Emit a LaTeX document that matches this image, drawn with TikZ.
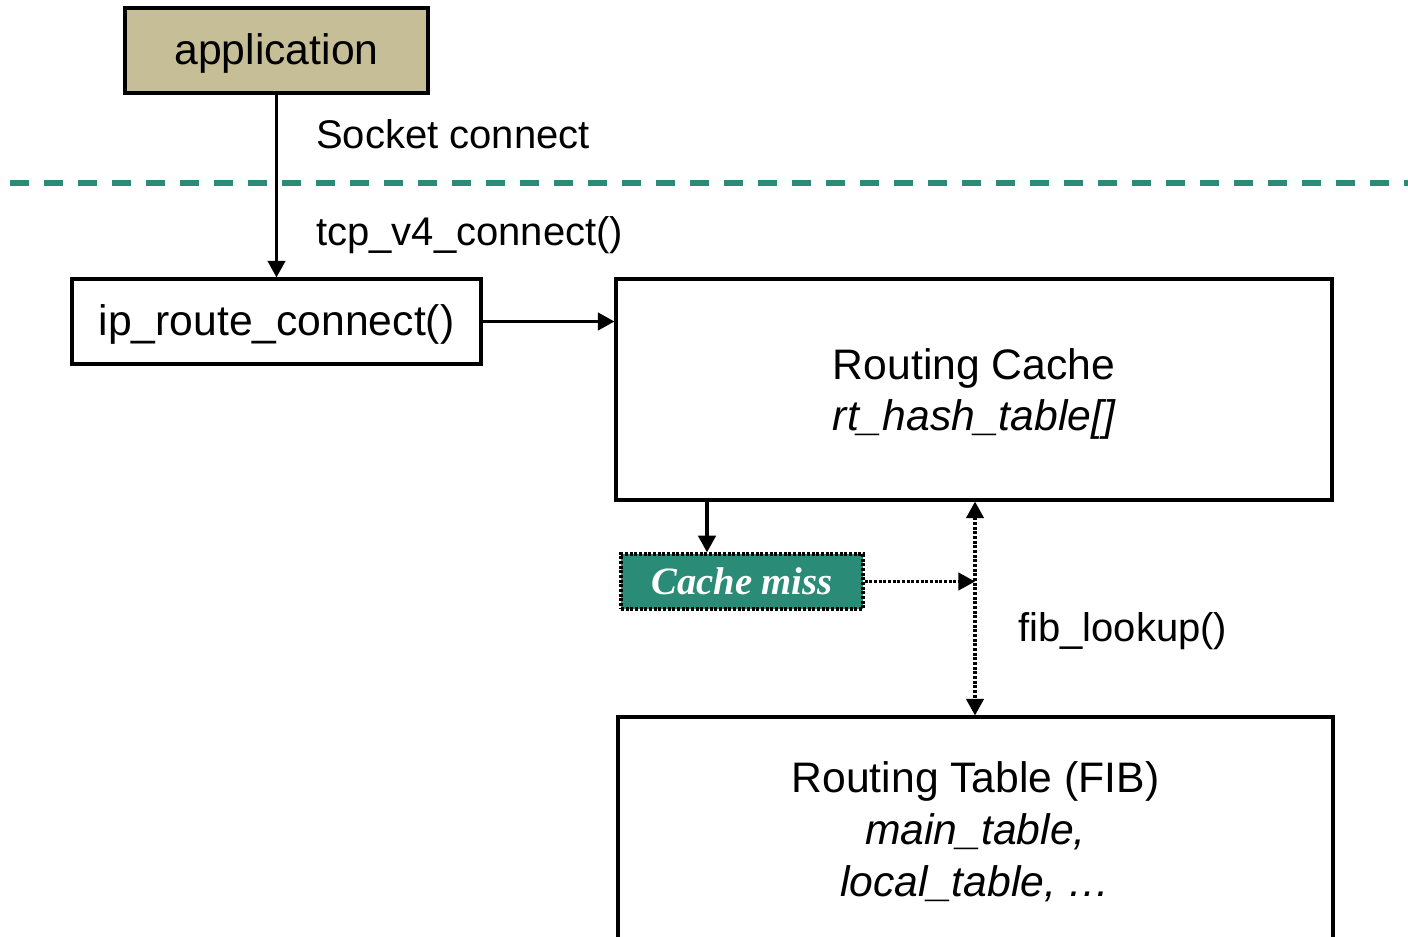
\documentclass[tikz,border=0pt]{standalone}
\usepackage{fontspec}
\setmainfont{Liberation Sans}
\newfontfamily\cmfont{Liberation Serif}
\usetikzlibrary{arrows.meta}
\definecolor{tealc}{HTML}{2A8B77}
\definecolor{tanc}{HTML}{C5BE97}
\tikzset{
  box/.style={draw=black, line width=2.3pt, rectangle, inner sep=0pt, font=\fontsize{32}{38}\selectfont, align=center},
  boxtext/.style={font=\fontsize{32}{38}\selectfont, inner sep=0pt},
  lbl/.style={font=\fontsize{30}{36}\selectfont, anchor=west, inner sep=0pt},
  tip/.tip={Triangle[length=12.5pt,width=13pt]},
  dots/.style={dash pattern=on 2.3pt off 1.2pt},
  arr/.style={line width=2.6pt, -tip},
  darr/.style={line width=2.5pt, dots, tip-tip},
}
\begin{document}
\begin{tikzpicture}[x=0.75pt,y=-0.75pt]
\useasboundingbox (0,0) rectangle (1408,937);
\clip (0,0) rectangle (1408,937);
\node[box, fill=tanc, minimum width=303*0.75pt, minimum height=85*0.75pt] (app) at (276.5,50.5) {};
\node[boxtext] (appt) at (276.5,53) {application};
\node[box, minimum width=409*0.75pt, minimum height=85*0.75pt] (iprc) at (276.5,321.5) {};
\node[boxtext] (iprct) at (276.5,324) {ip\_route\_connect()};
\node[box, minimum width=716*0.75pt, minimum height=221*0.75pt] (rc) at (974,389.5) {};
\node[boxtext] (rct) at (974,368) {Routing Cache};
\node[boxtext, font=\fontsize{32}{38}\selectfont\itshape] (rch) at (974,419) {rt\_hash\_table[]};
\node[box, minimum width=715*0.75pt, minimum height=240*0.75pt] (rt) at (975.5,837) {};
\node[boxtext] (rtt) at (975.5,781) {Routing Table (FIB)};
\node[boxtext, font=\fontsize{32}{38}\selectfont\itshape] (rtm) at (975.5,832) {main\_table,};
\node[boxtext, font=\fontsize{32}{38}\selectfont\itshape] (rtl) at (975.5,884) {local\_table, …};
\node[draw=black, dots, line width=2.5pt, fill=tealc, text=white, inner sep=0pt,
  minimum width=242*0.75pt, minimum height=55*0.75pt, font=\cmfont\fontsize{29}{34}\selectfont\bfseries\itshape] (cm) at (742,581.5) {Cache miss};
\draw[tealc, line width=4.8pt, dash pattern=on 14pt off 11.5pt] (10,183) -- (1408,183);
\coordinate (xd) at (975,0);
\coordinate (xc) at (707,0);
\coordinate (dtop) at (rc.south -| xd);
\coordinate (dbot) at (rt.north -| xd);
\coordinate (dmid) at (cm.east -| xd);
\draw[arr] (app.south) -- (iprc.north);
\node[lbl] (sock) at (316,134) {Socket connect};
\node[lbl] (tcp) at (316,235) {tcp\_v4\_connect()};
\draw[arr] (iprc.east) -- (rc.west |- iprc.east);
\draw[arr] (rc.south -| xc) -- (cm.north -| xc);
\draw[darr] (dtop) -- (dbot);
\draw[line width=2.5pt, dots, -tip] (cm.east) -- (dmid);
\node[lbl] (fib) at (1018,631) {fib\_lookup()};
\end{tikzpicture}
\end{document}
